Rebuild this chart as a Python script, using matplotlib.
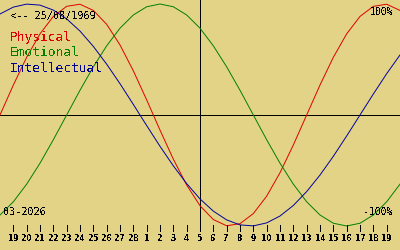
import numpy as np
import matplotlib
matplotlib.use("Agg")
import matplotlib.pyplot as plt

# day index 0..30 (index 15 = today, 05/03/2026)
days = list(range(31))
day_labels = ["19", "20", "21", "22", "23", "24", "25", "26", "27", "28",
              "1", "2", "3", "4", "5", "6", "7", "8", "9", "10", "11", "12",
              "13", "14", "15", "16", "17", "18", "19"]
label_pos = list(range(1, 30))
today = 15

physical = [0.0, 0.27, 0.52, 0.731, 0.888, 0.979, 0.998, 0.942, 0.817, 0.631,
            0.398, 0.136, -0.136, -0.398, -0.631, -0.817, -0.942, -0.998, -0.979,
            -0.888, -0.731, -0.52, -0.27, 0.0, 0.27, 0.52, 0.731, 0.888, 0.979,
            0.998, 0.942]
emotional = [-0.901, -0.782, -0.623, -0.434, -0.223, 0.0, 0.223, 0.434, 0.623,
             0.782, 0.901, 0.975, 1.0, 0.975, 0.901, 0.782, 0.623, 0.434, 0.223,
             0.0, -0.223, -0.434, -0.623, -0.782, -0.901, -0.975, -1.0, -0.975,
             -0.901, -0.782, -0.623]
intellectual = [0.91, 0.972, 0.999, 0.99, 0.945, 0.866, 0.756, 0.618, 0.458,
                0.282, 0.095, -0.095, -0.282, -0.458, -0.618, -0.756, -0.866,
                -0.945, -0.99, -0.999, -0.972, -0.91, -0.815, -0.69, -0.541,
                -0.372, -0.189, 0.0, 0.189, 0.372, 0.541]

bg = "#e2d386"
plt.rcParams["text.antialiased"] = False

fig = plt.figure(figsize=(4, 2.5), dpi=100)
fig.patch.set_facecolor(bg)
ax = fig.add_axes([0, 0, 1, 1])
ax.set_facecolor(bg)
ax.set_xlim(0, 30)
# pixel y = 115 - 111*v
ax.set_ylim((115 - 250) / 111.0, 115 / 111.0)
ax.axis("off")

def py(p):  # pixel row -> data y
    return (115 - p) / 111.0

ax.axhline(0, color="black", lw=0.72)
ax.plot([today, today], [py(0), py(229)], color="black", lw=0.72)

ax.plot(days, physical, color="#e00000", lw=0.7)
ax.plot(days, emotional, color="#008000", lw=0.7)
ax.plot(days, intellectual, color="#0000a0", lw=0.7)

# day ticks
for p, lab in zip(label_pos, day_labels):
    ax.plot([p, p], [py(225), py(231)], color="black", lw=0.72)
    ax.text(p, py(238.5), lab, ha="center", va="center", fontsize=5.5,
            fontweight="bold", family="DejaVu Sans")

mono = "DejaVu Sans Mono"
ax.text(10 * 30 / 400, py(16), "<-- 25/08/1969", fontsize=7.4, family=mono, va="center")
ax.text(10 * 30 / 400, py(38), "Physical", fontsize=9.3, family=mono, va="center", color="#e00000")
ax.text(10 * 30 / 400, py(53), "Emotional", fontsize=9.3, family=mono, va="center", color="#008000")
ax.text(10 * 30 / 400, py(68), "Intellectual", fontsize=9.3, family=mono, va="center", color="#000090")
ax.text(393 * 30 / 400, py(12), "100%", fontsize=7.0, family=mono, va="center", ha="right")
ax.text(393 * 30 / 400, py(212), "-100%", fontsize=7.0, family=mono, va="center", ha="right")
ax.text(3 * 30 / 400, py(212), "03-2026", fontsize=7.3, family=mono, va="center")

fig.savefig("out.png", dpi=100, facecolor=bg)
